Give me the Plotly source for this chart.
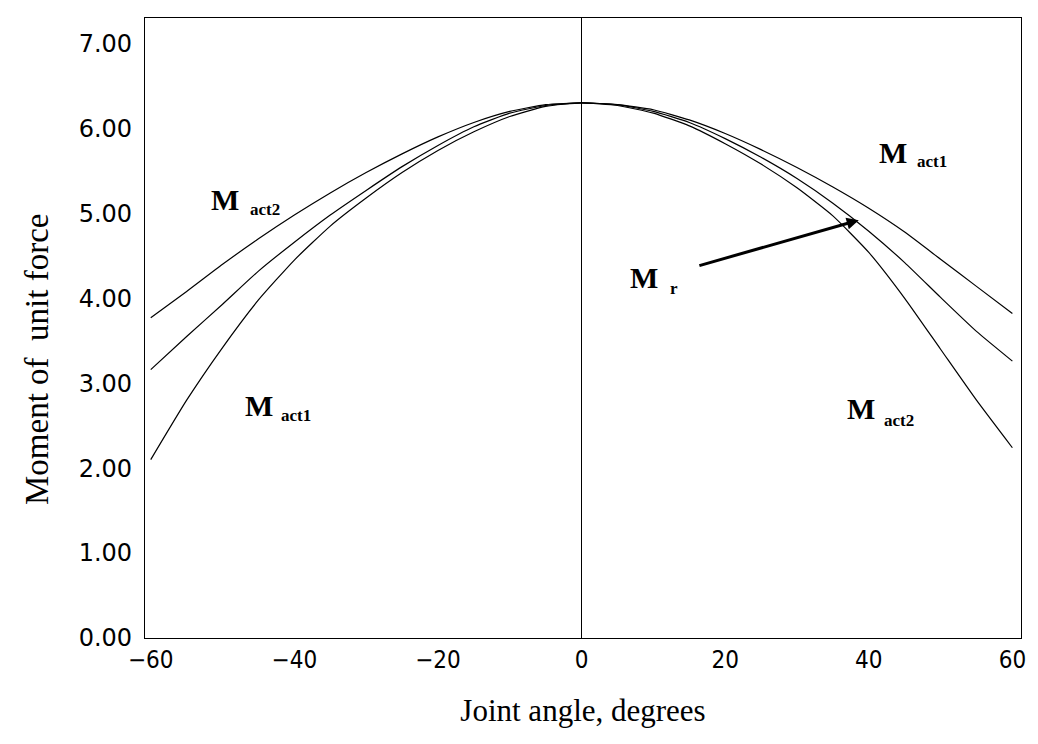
import plotly.graph_objects as go

# Joint angle (degrees)
angle = [-60, -55, -50, -45, -40, -35, -30, -25, -20, -15, -10, -5, 0,
         5, 10, 15, 20, 25, 30, 35, 40, 45, 50, 55, 60]

# Moment of unit force curves
m_act1 = [2.10, 2.80, 3.42, 3.98, 4.45, 4.85, 5.18, 5.48, 5.74, 5.96, 6.14, 6.26, 6.30,
          6.28, 6.22, 6.10, 5.94, 5.75, 5.54, 5.31, 5.06, 4.78, 4.46, 4.14, 3.82]
m_r = [3.16, 3.55, 3.93, 4.32, 4.66, 4.98, 5.27, 5.55, 5.80, 6.02, 6.18, 6.27, 6.30,
       6.28, 6.20, 6.07, 5.88, 5.66, 5.41, 5.12, 4.79, 4.42, 4.01, 3.61, 3.26]
m_act2 = [3.77, 4.08, 4.40, 4.70, 4.98, 5.24, 5.48, 5.70, 5.90, 6.07, 6.20, 6.28, 6.30,
          6.27, 6.18, 6.03, 5.82, 5.58, 5.30, 4.97, 4.54, 4.00, 3.40, 2.80, 2.24]

y_ticks = [0, 1, 2, 3, 4, 5, 6, 7]
x_ticks = [-60, -40, -20, 0, 20, 40, 60]

# Curve labels: (main letter, subscript, x of M, y of M, x of subscript, y of subscript)
labels = [
    ("M", "act2", -51.9, 5.16, -46.5, 5.04),
    ("M", "act1", -47.1, 2.74, -42.1, 2.62),
    ("M", "act1", 41.2, 5.72, 46.5, 5.61),
    ("M", "r", 6.4, 4.25, 12.0, 4.12),
    ("M", "act2", 36.7, 2.70, 41.9, 2.56),
]
arrow_tail = (16.2, 4.38)
arrow_tip = (38.6, 4.92)

serif = "Liberation Serif, Times New Roman, serif"

# the page body adds an 8 px offset, so the figure is sized to fit the window
W, H = 1030, 736
ML, MR, MT, MB = 137, 17, 10, 106

fig = go.Figure()
for ys in (m_act1, m_r, m_act2):
    fig.add_trace(go.Scatter(x=angle, y=ys, mode="lines",
                             line=dict(color="black", width=1.2, shape="spline", smoothing=0.5),
                             showlegend=False, hoverinfo="skip"))

for main, sub, xm, ym, xs, ysub in labels:
    fig.add_annotation(x=xm, y=ym, text=f"<b>{main}</b>", showarrow=False,
                       xanchor="left", yanchor="middle",
                       font=dict(family=serif, size=30, color="black"))
    fig.add_annotation(x=xs, y=ysub, text=f"<b>{sub}</b>", showarrow=False,
                       xanchor="left", yanchor="middle",
                       font=dict(family=serif, size=17, color="black"))

fig.add_annotation(x=arrow_tip[0], y=arrow_tip[1], ax=arrow_tail[0], ay=arrow_tail[1],
                   xref="x", yref="y", axref="x", ayref="y", text="",
                   showarrow=True, arrowhead=2, arrowsize=0.8, arrowwidth=3, arrowcolor="black")

# y-axis title placed as rotated text (sits a little below the plot centre in the original)
plot_w = W - ML - MR
plot_h = H - MT - MB
title_px, title_py = 29, 352   # centre, in figure pixels
fig.add_annotation(x=(title_px - ML) / plot_w, y=(H - MB - title_py) / plot_h,
                   xref="paper", yref="paper", text="Moment of\u00a0 unit force",
                   showarrow=False, textangle=-90, xanchor="center", yanchor="middle",
                   font=dict(family=serif, size=33, color="black"))

fig.update_layout(
    width=W, height=H,
    margin=dict(l=ML, r=MR, t=MT, b=MB, autoexpand=False),
    paper_bgcolor="white", plot_bgcolor="white",
    xaxis=dict(range=[-60.8, 61.2], tickvals=x_ticks, ticktext=[f"{v}".replace("-", "\u2212") for v in x_ticks],
               showgrid=False, zeroline=True, zerolinecolor="black", zerolinewidth=1,
               showline=True, linecolor="black", linewidth=1.2, mirror=True, ticks="",
               automargin=False, ticklabelstandoff=0,
               tickfont=dict(family="Liberation Sans Narrow, DejaVu Sans Condensed, sans-serif", size=24, color="black"),
               title=dict(text="Joint angle, degrees", standoff=26,
                          font=dict(family=serif, size=31, color="black"))),
    yaxis=dict(range=[0, 7.3], tickvals=y_ticks, ticktext=[f"{v:.2f}" for v in y_ticks],
               showgrid=False, zeroline=False,
               showline=True, linecolor="black", linewidth=1.2, mirror=True, ticks="",
               automargin=False, ticklabelstandoff=7,
               tickfont=dict(family="DejaVu Sans, sans-serif", size=24, color="black")),
)

fig.write_html("out.html")
